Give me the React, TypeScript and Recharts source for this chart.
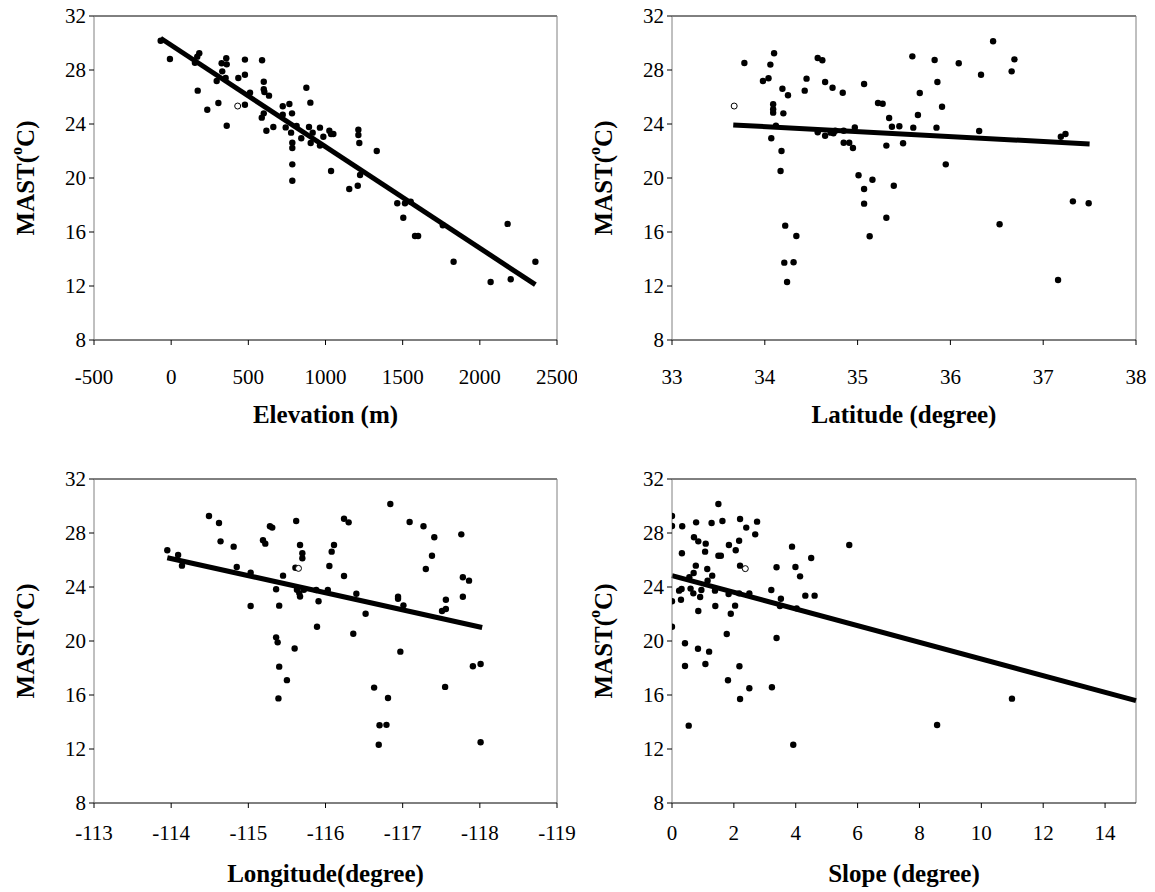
import React from "react";
import { ScatterChart, Scatter, XAxis, YAxis, ReferenceLine } from "recharts";

// shared y axis (MAST, deg C)
const mastTicks = [8, 12, 16, 20, 24, 28, 32];

// elevation panel
const elevX = [
  -68, -8, 154, 169, 182, 172, 234, 295, 306, 327, 331, 357, 360, 353, 360, 435, 478, 478, 478, 511,
  589, 600, 600, 604, 634, 587, 600, 617, 662, 723, 766, 783, 723, 742, 777, 785, 785, 785, 785, 813,
  843, 876, 902, 893, 917, 904, 964, 986, 964, 1025, 1036, 1051, 1036, 1213, 1213, 1219, 1332, 1224,
  1209, 1154, 1465, 1515, 1552, 1504, 1580, 1600, 1760, 1830, 2070, 2180, 2200, 2360,
];
const elevT = [
  30.17, 28.81, 28.54, 28.99, 29.24, 26.47, 25.06, 27.19, 25.56, 28.5, 27.9, 28.87, 28.42, 27.41, 23.87,
  27.41, 28.77, 27.65, 25.43, 26.32, 28.72, 27.13, 26.57, 26.37, 26.1, 24.47, 24.79, 23.5, 23.78, 25.31,
  25.48, 24.79, 24.69, 23.75, 23.36, 22.61, 22.22, 21.01, 19.8, 23.85, 22.94, 26.69, 25.58, 23.78, 23.36,
  22.59, 23.73, 23.06, 22.4, 23.5, 23.26, 23.26, 20.52, 23.58, 23.19, 22.59, 22.0, 20.22, 19.43, 19.19,
  18.13, 18.13, 18.25, 17.06, 15.7, 15.7, 16.5, 13.8, 12.3, 16.6, 12.5, 13.8,
];
const elevOpenX = [431];
const elevOpenT = [25.33];
const elevFitX = [-68, 2360];
const elevFitT = [30.35, 12.1];
const elevTicks = [-500, 0, 500, 1000, 1500, 2000, 2500];

// latitude panel
const latX = [
  33.78, 34.1, 34.06, 33.98, 34.04, 34.19, 34.25, 34.09, 34.09, 34.09, 34.2, 34.12, 34.07, 34.18, 34.17,
  34.22, 34.34, 34.21, 34.31, 34.24, 34.43, 34.45, 34.57, 34.62, 34.65, 34.73, 34.84, 34.57, 34.65, 34.71,
  34.74, 34.76, 34.85, 34.85, 34.91, 34.95, 34.97, 35.01, 35.16, 35.07, 35.07, 35.39, 35.31, 35.13, 35.07,
  35.22, 35.27, 35.34, 35.37, 35.45, 35.31, 35.49, 35.59, 35.65, 35.67, 35.6, 35.83, 35.86, 35.91, 35.85,
  35.95, 36.09, 36.46, 36.33, 36.31, 36.69, 36.66, 36.53, 37.16, 37.19, 37.24, 37.32, 37.49,
];
const latT = [
  28.52, 29.24, 28.4, 27.19, 27.39, 26.61, 26.13, 25.46, 25.09, 24.84, 24.79, 23.87, 22.94, 22.0, 20.52,
  16.47, 15.7, 13.73, 13.76, 12.3, 26.47, 27.36, 28.89, 28.72, 27.11, 26.69, 26.32, 23.38, 23.13, 23.36,
  23.31, 23.5, 23.5, 22.61, 22.61, 22.22, 23.75, 20.2, 19.87, 19.19, 18.1, 19.43, 17.06, 15.68, 26.96,
  25.56, 25.5, 24.44, 23.8, 23.83, 22.4, 22.57, 29.01, 24.67, 26.3, 23.73, 28.74, 27.11, 25.28, 23.73,
  21.01, 28.5, 30.13, 27.65, 23.48, 28.79, 27.9, 16.57, 12.44, 23.06, 23.26, 18.27, 18.13,
];
const latOpenX = [33.67];
const latOpenT = [25.33];
const latFitX = [33.66, 37.5];
const latFitT = [23.93, 22.52];
const latTicks = [33, 34, 35, 36, 37, 38];

// longitude panel
const lonX = [
  -113.95, -114.09, -114.14, -114.49, -114.62, -114.64, -114.81, -114.85, -115.03, -115.03, -115.19,
  -115.22, -115.28, -115.31, -115.36, -115.4, -115.45, -115.36, -115.38, -115.4, -115.5, -115.6, -115.39,
  -115.62, -115.67, -115.7, -115.7, -115.61, -115.63, -115.66, -115.67, -115.72, -115.88, -115.91,
  -115.89, -116.03, -116.05, -116.08, -116.11, -116.24, -116.3, -116.24, -116.4, -116.52, -116.36,
  -116.84, -117.09, -117.27, -117.41, -117.38, -117.3, -116.94, -116.94, -117.01, -116.97, -117.76,
  -117.78, -117.86, -117.78, -117.56, -117.56, -117.51, -117.91, -118.01, -117.55, -116.63, -116.81,
  -116.7, -116.79, -116.69, -118.01,
];
const lonT = [
  26.72, 26.37, 25.58, 29.26, 28.74, 27.38, 26.99, 25.48, 25.06, 22.59, 27.46, 27.21, 28.5, 28.4, 23.83,
  22.62, 24.84, 20.27, 19.9, 18.1, 17.1, 19.45, 15.75, 28.89, 27.11, 26.5, 26.13, 25.43, 23.8, 23.55,
  23.3, 23.8, 23.78, 22.94, 21.06, 23.78, 25.56, 26.62, 27.11, 29.06, 28.79, 24.81, 23.5, 22.02, 20.54,
  30.15, 28.81, 28.5, 27.68, 26.32, 25.33, 23.28, 23.13, 22.64, 19.21, 27.9, 24.72, 24.47, 23.28, 23.06,
  22.37, 22.22, 18.13, 18.3, 16.6, 16.55, 15.78, 13.76, 13.79, 12.32, 12.5,
];
const lonOpenX = [-115.65];
const lonOpenT = [25.38];
const lonFitX = [-113.95, -118.03];
const lonFitT = [26.17, 21.0];
const lonTicks = [-119, -118, -117, -116, -115, -114, -113];

// slope panel
const slopeX = [
  0, 0, 0.33, 0.78, 1.28, 1.5, 1.63, 2.2, 2.4, 2.75, 2.69, 0.71, 0.85, 1.09, 1.07, 0.32, 1.5, 1.58, 1.84,
  2.06, 2.17, 2.2, 0.77, 0.7, 1.14, 1.3, 1.15, 0.56, 0.6, 0.69, 0.23, 0.31, 0.95, 0.91, 1.39, 1.83, 2.17,
  2.5, 0, 0.29, 0.85, 1.4, 2.04, 1.9, 0, 1.77, 3.38, 3.21, 3.52, 3.49, 3.38, 3.88, 3.99, 4.14, 4.5, 4.31,
  4.61, 4.03, 5.73, 0.42, 0.42, 0.84, 1.2, 1.08, 1.81, 2.18, 2.2, 2.5, 3.23, 0.54, 3.92, 8.57, 10.99,
];
const slopeT = [
  29.26, 28.52, 28.5, 28.79, 28.74, 30.15, 28.89, 29.04, 28.4, 28.84, 27.9, 27.68, 27.38, 27.21, 26.62,
  26.5, 26.32, 26.32, 27.11, 26.72, 27.43, 25.58, 25.58, 25.04, 25.33, 24.84, 24.47, 24.72, 23.88, 23.53,
  23.73, 23.85, 23.78, 23.26, 23.73, 23.48, 23.53, 23.53, 22.94, 23.06, 22.22, 22.59, 22.62, 22.02, 21.06,
  20.52, 20.22, 23.78, 23.13, 22.59, 25.46, 26.99, 25.48, 24.79, 26.15, 23.36, 23.36, 22.42, 27.11, 19.83,
  18.15, 19.43, 19.21, 18.3, 17.09, 18.13, 15.7, 16.5, 16.57, 13.73, 12.32, 13.78, 15.73,
];
const slopeOpenX = [2.37];
const slopeOpenT = [25.36];
const slopeFitX = [0, 15];
const slopeFitT = [24.84, 15.58];
const slopeTicks = [0, 2, 4, 6, 8, 10, 12, 14];

const serif = "'Liberation Serif', 'Times New Roman', serif";

const Dot = (props: any) => <circle cx={props.cx} cy={props.cy} r={3.2} fill="#000" />;
const OpenDot = (props: any) => (
  <circle cx={props.cx} cy={props.cy} r={3} fill="#fff" stroke="#000" strokeWidth={1} />
);

const XTitle = (props: any) => {
  const { viewBox, text, gap } = props;
  return (
    <text
      x={viewBox.x + viewBox.width / 2}
      y={viewBox.y + gap}
      textAnchor="middle"
      dominantBaseline="central"
      fontFamily={serif}
      fontWeight="bold"
      fontSize={25}
      fill="#000"
    >
      {text}
    </text>
  );
};

const YTitle = (props: any) => {
  const { viewBox } = props;
  const cx = viewBox.x + 25;
  const cy = viewBox.y + viewBox.height / 2;
  return (
    <text
      x={cx}
      y={cy}
      transform={`rotate(-90 ${cx} ${cy})`}
      textAnchor="middle"
      dominantBaseline="central"
      fontFamily={serif}
      fontWeight="bold"
      fontSize={25}
      fill="#000"
    >
      MAST(
      <tspan baselineShift="super" fontSize={16}>
        o
      </tspan>
      C)
    </text>
  );
};

type PanelProps = {
  left: number;
  top: number;
  right: number;
  xs: number[];
  ys: number[];
  openX: number[];
  openY: number[];
  fitX: number[];
  fitY: number[];
  domain: [number, number];
  ticks: number[];
  reversed?: boolean;
  title: string;
  tickGap: number;
  titleGap: number;
};

const Panel = (p: PanelProps) => {
  const pts = p.xs.map((x, i) => ({ x, y: p.ys[i] }));
  const open = p.openX.map((x, i) => ({ x, y: p.openY[i] }));
  const tick = { fontFamily: serif, fontSize: 21, fill: "#000" };
  const edge = p.reversed ? p.domain[0] : p.domain[1];
  return (
    <div style={{ position: "absolute", left: p.left, top: p.top }}>
      <ScatterChart width={577} height={440} margin={{ top: 16, right: p.right, bottom: 30, left: 0 }}>
        <XAxis
          type="number"
          dataKey="x"
          domain={p.domain}
          ticks={p.ticks}
          reversed={p.reversed}
          interval={0}
          allowDataOverflow
          height={70}
          axisLine={{ stroke: "#000" }}
          tickLine={{ stroke: "#000" }}
          tickSize={5}
          tickMargin={p.tickGap}
          tick={tick}
          label={<XTitle text={p.title} gap={p.titleGap} />}
        />
        <YAxis
          type="number"
          dataKey="y"
          domain={[8, 32]}
          ticks={mastTicks}
          interval={0}
          allowDataOverflow
          width={94}
          axisLine={{ stroke: "#808080" }}
          tickLine={{ stroke: "#000" }}
          tickSize={5}
          tickMargin={3}
          tick={tick}
          label={<YTitle />}
        />
        <ReferenceLine y={32} stroke="#000" strokeWidth={1} />
        <ReferenceLine x={edge} stroke="#808080" strokeWidth={1} />
        <ReferenceLine
          segment={[
            { x: p.fitX[0], y: p.fitY[0] },
            { x: p.fitX[1], y: p.fitY[1] },
          ]}
          stroke="#000"
          strokeWidth={5}
          ifOverflow="visible"
        />
        <Scatter data={pts} shape={Dot} isAnimationActive={false} />
        <Scatter data={open} shape={OpenDot} isAnimationActive={false} />
      </ScatterChart>
    </div>
  );
};

export default function App() {
  return (
    <div
      style={{
        position: "absolute",
        left: 0,
        top: 0,
        width: 1155,
        height: 892,
        overflow: "hidden",
        background: "#fff",
      }}
    >
      <Panel
        left={0}
        top={0}
        right={20}
        xs={elevX}
        ys={elevT}
        openX={elevOpenX}
        openY={elevOpenT}
        fitX={elevFitX}
        fitY={elevFitT}
        domain={[-500, 2500]}
        ticks={elevTicks}
        title="Elevation (m)"
        tickGap={24}
        titleGap={74}
      />
      <Panel
        left={578}
        top={0}
        right={19}
        xs={latX}
        ys={latT}
        openX={latOpenX}
        openY={latOpenT}
        fitX={latFitX}
        fitY={latFitT}
        domain={[33, 38]}
        ticks={latTicks}
        title="Latitude (degree)"
        tickGap={24}
        titleGap={74}
      />
      <Panel
        left={0}
        top={463}
        right={20}
        xs={lonX}
        ys={lonT}
        openX={lonOpenX}
        openY={lonOpenT}
        fitX={lonFitX}
        fitY={lonFitT}
        domain={[-119, -113]}
        ticks={lonTicks}
        reversed
        title="Longitude(degree)"
        tickGap={17}
        titleGap={70}
      />
      <Panel
        left={578}
        top={463}
        right={19}
        xs={slopeX}
        ys={slopeT}
        openX={slopeOpenX}
        openY={slopeOpenT}
        fitX={slopeFitX}
        fitY={slopeFitT}
        domain={[0, 15]}
        ticks={slopeTicks}
        title="Slope (degree)"
        tickGap={17}
        titleGap={70}
      />
    </div>
  );
}
